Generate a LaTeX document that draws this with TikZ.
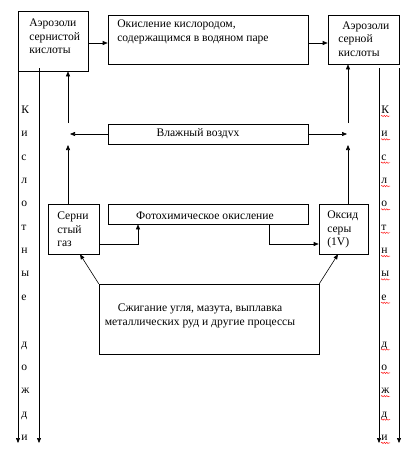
\documentclass[tikz,border=0pt]{standalone}
\usepackage{fontspec}
\setmainfont{Liberation Serif}
\usetikzlibrary{arrows.meta,decorations.pathmorphing}

\begin{document}
\begin{tikzpicture}[x=1pt,y=-1pt,line width=0.6pt,
  box/.style={draw,rectangle,inner sep=0pt},
  txt/.style={inner sep=0pt,align=left,font=\fontsize{11.6pt}{13.4pt}\selectfont},
  arr/.style={-{Triangle[length=5pt,width=4pt]}}]

\useasboundingbox (0,0) rectangle (418,459);

% boxes
\node[box,minimum width=70pt,minimum height=60pt] (aero1) at (53,41) {};
\node[box,minimum width=200pt,minimum height=49pt] (oxid) at (208,39.5) {};
\node[box,minimum width=71pt,minimum height=49pt] (aero2) at (363.5,39.5) {};
\node[box,minimum width=200pt,minimum height=20pt] (wet) at (208,134) {};
\node[box,minimum width=200pt,minimum height=20pt] (photo) at (208,214) {};
\node[box,minimum width=51pt,minimum height=50pt] (gas) at (73.5,229) {};
\node[box,minimum width=49pt,minimum height=50pt] (oxs) at (343.5,229) {};
\node[box,minimum width=220pt,minimum height=70pt] (fuel) at (209,319) {};

% texts
\node[txt,anchor=west] (aero1t) at (29,36.5) {Аэрозоли\\сернистой\\кислоты};
\node[txt,anchor=west] (oxidt) at (117,32) {Окисление кислородом,\\содержащимся в водяном паре};
\node[txt,anchor=west] (aero2t) at (338,39) {\hspace*{4pt}Аэрозоли\\серной\\кислоты};
\node[txt] (wett) at (198,134) {Влажный воздvх};
\node[txt] (photot) at (205,215.5) {Фотохимическое окисление};
\node[txt,anchor=west] (gast) at (57,229.5) {Серни\\стый\\газ};
\node[txt,anchor=west] (oxst) at (327,229.5) {Оксид\\серы\\(1V)};
\node[txt,align=center] (fuelt) at (200,316) {Сжигание угля, мазута, выплавка\\металлических руд и другие процессы};

% gaps at the wet air arrows
\coordinate (lup) at (68,123);
\coordinate (ldown) at (68,145);
\coordinate (rup) at (348,123);
\coordinate (rdown) at (348,145);
\coordinate (wetL) at (70,134);
\coordinate (wetR) at (347,134);

\draw[arr] ([yshift=-2pt]aero1.east) -- ([yshift=-2pt]aero1.east -| oxid.west);
\draw[arr] ([yshift=-3.5pt]oxid.east) -- ([yshift=-3.5pt]aero2.west);
\draw[arr] (lup) -- (lup |- aero1.south);
\draw[arr] (rup) -- (rup |- aero2.south);
\draw[arr] (gas.north -| ldown) -- (ldown);
\draw[arr] (oxs.north -| rdown) -- (rdown);
\draw[arr] (wet.west) -- (wetL);
\draw[arr] (wet.east) -- (wetR);
\draw[arr] ([yshift=-15pt]gas.east) -| ([xshift=-70pt]photo.south);
\draw[arr] ([xshift=61pt]photo.south) |- ([yshift=-15pt]oxs.west);
\draw[arr] (fuel.north west) -- ([xshift=6.5pt]gas.south);
\draw[arr] (fuel.north east) -- ([xshift=-5.5pt]oxs.south);

% rain columns
\coordinate (l1t) at (18,68);  \coordinate (l1b) at (18,443);
\coordinate (l2t) at (39,68);  \coordinate (l2b) at (39,443);
\coordinate (r1t) at (379,68); \coordinate (r1b) at (379,443);
\coordinate (r2t) at (399,68); \coordinate (r2b) at (399,443);
\draw[arr] (l1t) -- (l1b);
\draw[arr] (l2t) -- (l2b);
\draw[arr] (r1t) -- (r1b);
\draw[arr] (r2t) -- (r2b);

\foreach \ch/\k in {К/0,и/1,с/2,л/3,о/4,т/5,н/6,ы/7,е/8,д/10,о/11,ж/12,д/13,и/14} {
  \node[txt,anchor=base west] (kl\k) at (21,113.5+23.35*\k) {\ch};
  \node[txt,anchor=base west] (kr\k) at (381,113.5+23.35*\k) {\ch};
  \draw[red,line width=0.4pt,decorate,decoration={snake,amplitude=0.7pt,segment length=2.5pt}]
    (381,116+23.35*\k) -- (390,116+23.35*\k);
}
\end{tikzpicture}
\end{document}
